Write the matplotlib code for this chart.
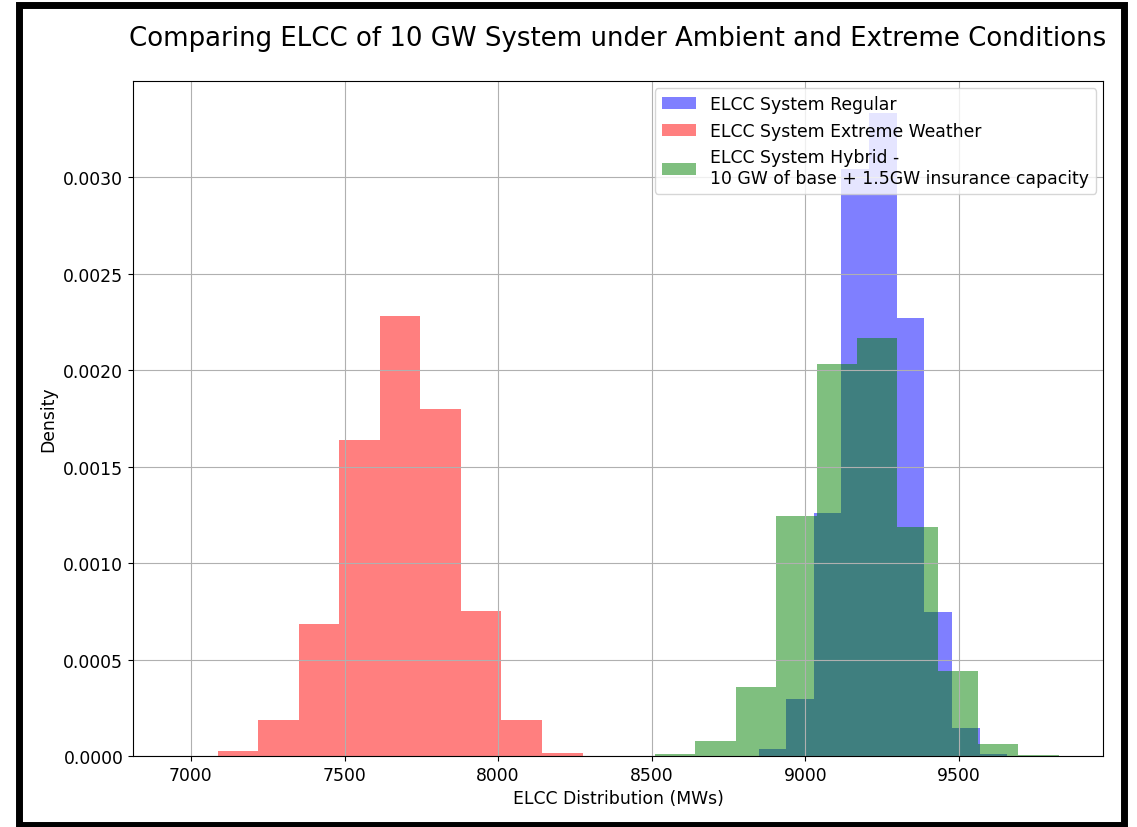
import numpy as np
import matplotlib
matplotlib.use('Agg')
import matplotlib.pyplot as plt
from matplotlib.patches import Rectangle

# bin edges (MW) and densities
regular_start, regular_width = 8848, 90.0
regular_density = [0.000034, 0.000295, 0.00126, 0.00304, 0.00333,
                   0.00227, 0.000745, 0.000147, 0.0000088]

extreme_start, extreme_width = 6955, 132.0
extreme_density = [0.0, 0.000026, 0.000185, 0.000685, 0.00164,
                   0.00228, 0.0018, 0.00075, 0.000185, 0.000016]

hybrid_start, hybrid_width = 8511, 131.45
hybrid_density = [0.0000114, 0.0000795, 0.000359, 0.001243, 0.00203,
                  0.002166, 0.001186, 0.000443, 0.0000605, 0.0000036]


def edges(start, width, n):
    return start + width * np.arange(n + 1)


plt.rcParams['font.size'] = 12.4

fig = plt.figure(figsize=(11.37, 8.28), dpi=100)
ax = fig.add_axes([0.117, 0.0857, 0.853, 0.815])

for start, width, dens, color, label in [
        (regular_start, regular_width, regular_density, 'blue', 'ELCC System Regular'),
        (extreme_start, extreme_width, extreme_density, 'red', 'ELCC System Extreme Weather'),
        (hybrid_start, hybrid_width, hybrid_density, 'green',
         'ELCC System Hybrid -\n10 GW of base + 1.5GW insurance capacity')]:
    e = edges(start, width, len(dens))
    centers = (e[:-1] + e[1:]) / 2
    ax.hist(centers, bins=e, weights=dens, alpha=0.5, color=color, label=label)

ax.set_title('Comparing ELCC of 10 GW System under Ambient and Extreme Conditions',
             fontsize=18.7, pad=26)
ax.set_xlabel('ELCC Distribution (MWs)')
ax.set_ylabel('Density')
ax.legend(loc='upper right', borderaxespad=0.4)
ax.grid(True)

# black frame around the whole picture
fig.patches.append(Rectangle((18.5 / 1137, 2 / 828), 1105 / 1137, 820 / 828,
                             transform=fig.transFigure, fill=False,
                             edgecolor='black', linewidth=5))

fig.savefig('out.png', dpi=100)
